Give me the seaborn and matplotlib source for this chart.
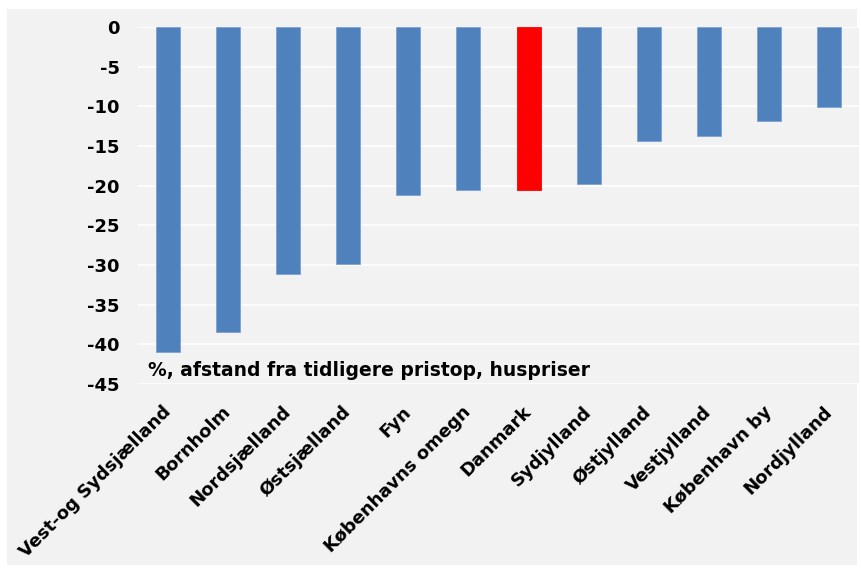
import numpy as np
import pandas as pd
import matplotlib
matplotlib.use("Agg")
import matplotlib.pyplot as plt
from matplotlib.patches import Rectangle
import seaborn as sns

# Data
regioner = ["Vest-og Sydsjælland", "Bornholm", "Nordsjælland", "Østsjælland", "Fyn",
            "Københavns omegn", "Danmark", "Sydjylland", "Østjylland", "Vestjylland",
            "København by", "Nordjylland"]
afstand = [-41.0, -38.5, -31.1, -29.9, -21.2, -20.6, -20.6, -19.8, -14.4, -13.7, -11.9, -10.1]
fremhaev = "Danmark"
yticks = [0, -5, -10, -15, -20, -25, -30, -35, -40, -45]
note = "%, afstand fra tidligere pristop, huspriser"

df = pd.DataFrame({"region": regioner, "afstand": afstand})
farver = {r: ("#ff0000" if r == fremhaev else "#4f81bd") for r in regioner}

sns.set_style("white")
plt.rcParams["font.family"] = ["DejaVu Sans"]
plt.rcParams["font.weight"] = "bold"
plt.rcParams["text.color"] = "black"
plt.rcParams["xtick.color"] = "black"
plt.rcParams["ytick.color"] = "black"

fig = plt.figure(figsize=(8.61, 5.69), dpi=100, facecolor="white")
# grå baggrund bag det hele
fig.add_artist(Rectangle((7 / 861, 4 / 569), 850 / 861, 556 / 569,
                         transform=fig.transFigure, facecolor="#f2f2f2",
                         edgecolor="none", zorder=-10))
ax = fig.add_axes([138 / 861, 1 - 384 / 569, 721 / 861, 357 / 569])
ax.set_facecolor("#f2f2f2")

sns.barplot(data=df, x="region", y="afstand", hue="region", palette=farver,
            legend=False, width=0.4, saturation=1, ax=ax,
            edgecolor="#7da2d6", linewidth=0.6, zorder=3)
for p, r in zip(ax.patches, regioner):
    if r == fremhaev:
        p.set_edgecolor("#ff0000")

ax.set_ylim(-45, 0)
ax.set_xlim(-0.5, len(regioner) - 0.5)
ax.set_yticks(yticks)
ax.set_yticklabels([str(t) for t in yticks], fontsize=13, fontweight="bold")
ax.yaxis.grid(True, color="white", linewidth=1.2, zorder=0)
ax.set_axisbelow(True)
for s in ax.spines.values():
    s.set_visible(False)
ax.tick_params(axis="both", length=0)
ax.tick_params(axis="y", pad=13)
ax.tick_params(axis="x", pad=18)
ax.set_xticks(range(len(regioner)))
ax.set_xticklabels(regioner, rotation=45, ha="right", va="center",
                   rotation_mode="anchor", fontsize=13, fontweight="bold")
ax.set_xlabel("")
ax.set_ylabel("")

ax.text(10 / 721, -43.3, note, fontsize=13.5, fontweight="bold",
        transform=ax.get_yaxis_transform(), va="center", ha="left")

fig.savefig("out.png", dpi=100, facecolor=fig.get_facecolor())
